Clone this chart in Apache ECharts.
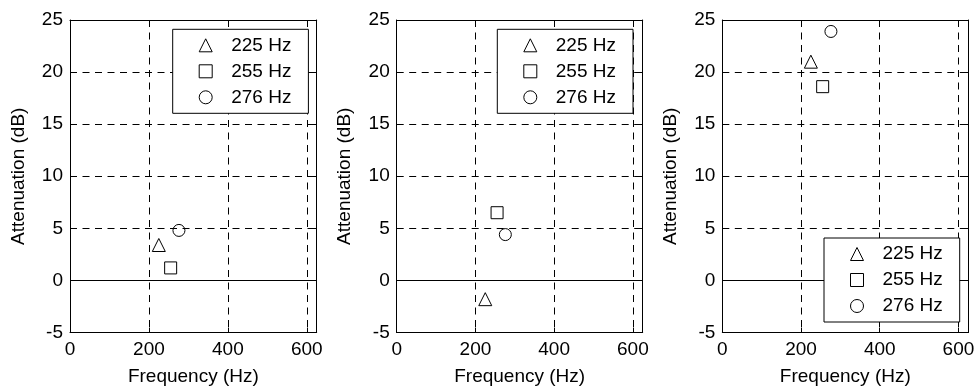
<!DOCTYPE html>
<html>
<head>
<meta charset="utf-8">
<script src="https://cdn.jsdelivr.net/npm/echarts@6/dist/echarts.min.js"></script>
<style>
html,body{margin:0;padding:0;background:#fff;}
#chart{width:975px;height:387px;}
</style>
</head>
<body>
<div id="chart"></div>
<script>
// ---- data ----
const seriesNames = ['225 Hz', '255 Hz', '276 Hz'];
const frequencies = [225, 255, 276];
const panel1Atten = [3.4, 1.2, 4.8];
const panel2Atten = [-1.8, 6.5, 4.4];
const panel3Atten = [21.0, 18.6, 23.9];
const xTickValues = [0, 200, 400, 600];
const yTickValues = [-5, 0, 5, 10, 15, 20, 25];
const xTitle = 'Frequency (Hz)';
const yTitle = 'Attenuation (dB)';

// ---- layout / style ----
const panels = [panel1Atten, panel2Atten, panel3Atten];
const gridBoxes = [
  {left: 70, top: 20, width: 246.7, height: 312.5},
  {left: 396.7, top: 20, width: 246, height: 312.5},
  {left: 722.3, top: 20, width: 246, height: 312.5}
];
const legendPos = [[172.7, 29.3], [497.3, 29.3], [824, 238]];
const symbols = ['triangle', 'rect', 'circle'];
const symbolSizes = [13, 12, 12];
const FONT = "'Liberation Sans', Arial, Helvetica, sans-serif";
const FS = 19;

const xMin = xTickValues[0], xMax = 625, xInt = 200;
const yMin = yTickValues[0], yMax = yTickValues[yTickValues.length - 1], yInt = 5;

const grid = [], xAxis = [], yAxis = [], series = [], legend = [];

panels.forEach((vals, p) => {
  grid.push(Object.assign({containLabel: false, outerBoundsMode: 'none'}, gridBoxes[p]));
  const lineBlack = {show: true, onZero: false, lineStyle: {color: '#000', width: 1}};
  const tick = {show: true, inside: true, length: 5, lineStyle: {color: '#000', width: 1}};
  const dash = {show: true, lineStyle: {color: '#000', width: 1, type: [7, 5.5]}};
  // bottom x
  xAxis.push({
    type: 'value', gridIndex: p, min: xMin, max: xMax, interval: xInt, position: 'bottom',
    name: xTitle, nameLocation: 'middle', nameGap: 35,
    nameTextStyle: {fontFamily: FONT, fontSize: FS, color: '#000'},
    axisLine: lineBlack, axisTick: tick,
    axisLabel: {fontFamily: FONT, fontSize: FS, color: '#000', margin: 8, showMaxLabel: false},
    splitLine: dash
  });
  // top x (box)
  xAxis.push({
    type: 'value', gridIndex: p, min: xMin, max: xMax, interval: xInt, position: 'top',
    axisLine: lineBlack, axisTick: tick,
    axisLabel: {show: false}, splitLine: {show: false}
  });
  // left y
  yAxis.push({
    type: 'value', gridIndex: p, min: yMin, max: yMax, interval: yInt, position: 'left',
    name: yTitle, nameLocation: 'middle', nameGap: 42,
    nameTextStyle: {fontFamily: FONT, fontSize: FS, color: '#000'},
    axisLine: lineBlack, axisTick: tick,
    axisLabel: {fontFamily: FONT, fontSize: FS, color: '#000', margin: 7},
    splitLine: dash
  });
  // right y (box)
  yAxis.push({
    type: 'value', gridIndex: p, min: yMin, max: yMax, interval: yInt, position: 'right',
    axisLine: lineBlack, axisTick: tick,
    axisLabel: {show: false}, splitLine: {show: false}
  });

  seriesNames.forEach((nm, i) => {
    const s = {
      type: 'scatter', name: nm, xAxisIndex: 2 * p, yAxisIndex: 2 * p,
      symbol: symbols[i], symbolSize: symbolSizes[i],
      itemStyle: {color: 'rgba(255,255,255,0)', borderColor: '#000', borderWidth: 1, opacity: 1},
      emphasis: {disabled: true},
      data: [[frequencies[i], vals[i]]],
      z: 5
    };
    if (i === 0) {
      s.markLine = {
        silent: true, symbol: 'none', animation: false,
        label: {show: false},
        lineStyle: {color: '#000', width: 1, type: 'solid'},
        data: [{yAxis: 0}]
      };
    }
    series.push(s);
  });

  legend.push({
    orient: 'vertical',
    left: legendPos[p][0], top: legendPos[p][1],
    data: seriesNames.slice(),
    itemWidth: 13, itemHeight: 13, itemGap: 7,
    padding: [6.5, 17, 6.5, 26],
    borderColor: '#000', borderWidth: 1, backgroundColor: '#fff',
    selectedMode: false,
    itemStyle: {color: 'rgba(255,255,255,0)', borderColor: '#000', borderWidth: 1},
    textStyle: {fontFamily: FONT, fontSize: FS, color: '#000', lineHeight: 19, padding: [0, 0, 0, 14]},
    z: 10
  });
});

const chart = echarts.init(document.getElementById('chart'), null, {renderer: 'canvas'});
chart.setOption({
  animation: false,
  backgroundColor: '#fff',
  textStyle: {fontFamily: FONT},
  grid, xAxis, yAxis, legend, series
});
</script>
</body>
</html>
